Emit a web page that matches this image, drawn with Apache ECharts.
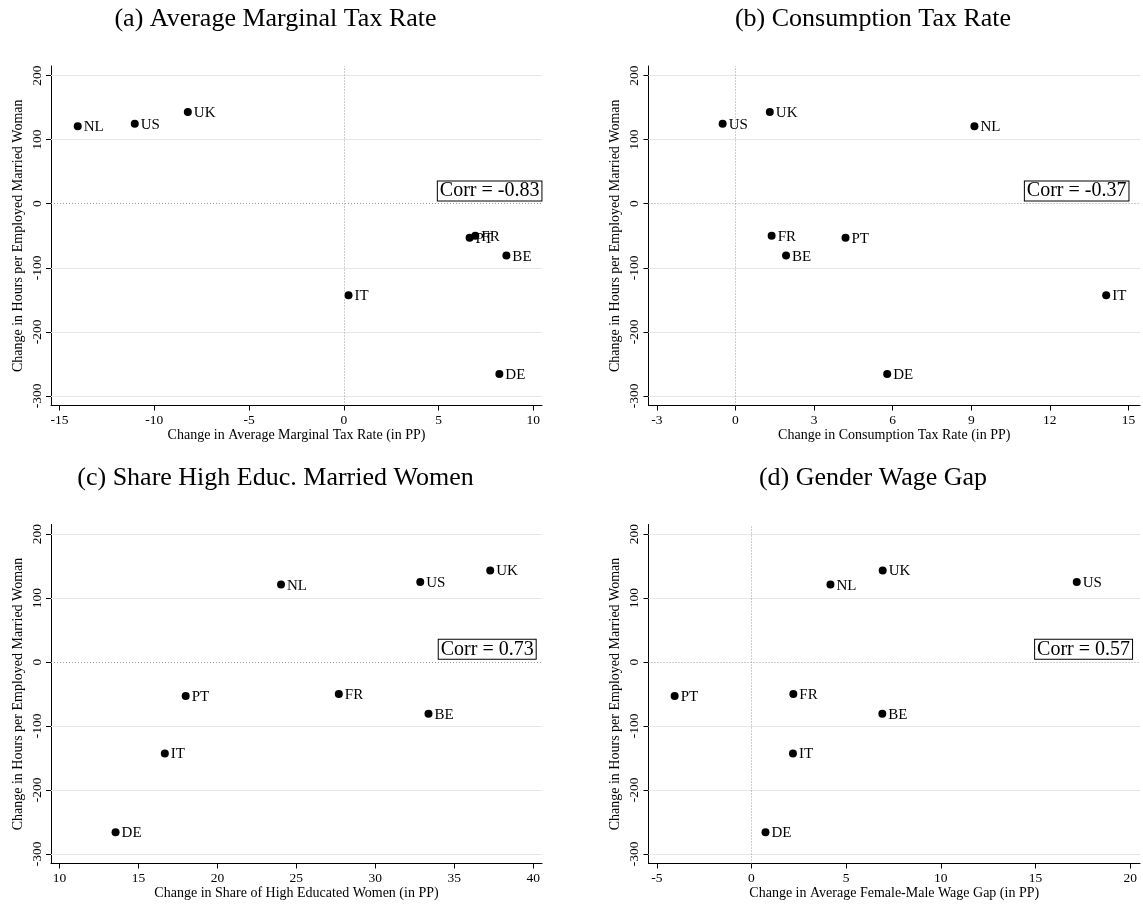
<!DOCTYPE html>
<html>
<head>
<meta charset="utf-8">
<script src="https://cdn.jsdelivr.net/npm/echarts@6/dist/echarts.min.js"></script>
<style>
  html, body { margin: 0; padding: 0; background: #fff; }
  #chart { width: 1143px; height: 905px; }
</style>
</head>
<body>
<div id="chart"></div>
<script>
// Countries and the common outcome: change in annual hours per employed married woman
const countries   = ['NL', 'US', 'UK', 'FR', 'PT', 'BE', 'IT', 'DE'];
const hoursChange = [121, 125, 143, -50, -53, -81, -143, -266];

// Explanatory variables, one per panel (same country order)
const avgMarginalTax  = [-14.04, -11.03, -8.23, 6.94, 6.64, 8.58, 0.25, 8.21];
const consumptionTax  = [9.12, -0.49, 1.31, 1.38, 4.20, 1.93, 14.15, 5.79];
const highEducShare   = [24.03, 32.85, 37.28, 27.69, 17.99, 33.37, 16.67, 13.55];
const wageGap         = [4.17, 17.18, 6.93, 2.21, -4.06, 6.91, 2.19, 0.74];

// Panel text
const panelTitles = [
  '(a) Average Marginal Tax Rate',
  '(b) Consumption Tax Rate',
  '(c) Share High Educ. Married Women',
  '(d) Gender Wage Gap'
];
const xAxisNames = [
  'Change in Average Marginal Tax Rate (in PP)',
  'Change in Consumption Tax Rate (in PP)',
  'Change in Share of High Educated Women (in PP)',
  'Change in Average Female-Male Wage Gap (in PP)'
];
const yAxisName = 'Change in Hours per Employed Married Woman';
const corrValues = ['-0.83', '-0.37', '0.73', '0.57'];

// Axis ticks and ranges
const xTicks = [
  [-15, -10, -5, 0, 5, 10],
  [-3, 0, 3, 6, 9, 12, 15],
  [10, 15, 20, 25, 30, 35, 40],
  [-5, 0, 5, 10, 15, 20]
];
const xRanges = [[-15.45, 10.46], [-3.32, 15.44], [9.46, 40.56], [-5.44, 20.52]];
const yTicks = [-300, -200, -100, 0, 100, 200];
const yRange = [-315, 215];
// dotted reference line at x = 0 where zero lies inside the range
const xZeroLine = [true, true, false, true];

// Anchor (data units) of the right-bottom corner of each correlation box
const corrAnchorX = [10.43, 15.0, 40.16, 20.1];
const corrAnchorY = 5;

const xValues = [avgMarginalTax, consumptionTax, highEducShare, wageGap];

const FONT = '"Liberation Serif", "Times New Roman", serif';
const grids = [
  { left: 51,    top: 66,    width: 491,   height: 339.5 },
  { left: 648.5, top: 66,    width: 491.5, height: 339.5 },
  { left: 51,    top: 524.5, width: 491,   height: 339 },
  { left: 648.5, top: 524.5, width: 491.5, height: 339 }
];

const chart = echarts.init(document.getElementById('chart'), null, { renderer: 'canvas' });

const xAxes = [], yAxes = [], series = [];
for (let i = 0; i < 4; i++) {
  xAxes.push({
    type: 'value', gridIndex: i,
    min: xRanges[i][0], max: xRanges[i][1],
    axisLine: { onZero: false, lineStyle: { color: '#000', width: 1 } },
    axisTick: { customValues: xTicks[i], length: 5, lineStyle: { color: '#000', width: 1 } },
    axisLabel: { customValues: xTicks[i], margin: 8, fontSize: 13.5, fontFamily: FONT, color: '#000' },
    splitLine: { show: false },
    name: xAxisNames[i], nameLocation: 'middle', nameGap: 23,
    nameTextStyle: { fontFamily: FONT, fontSize: 14, color: '#000' }
  });
  yAxes.push({
    type: 'value', gridIndex: i,
    min: yRange[0], max: yRange[1],
    axisLine: { onZero: false, lineStyle: { color: '#000', width: 1 } },
    axisTick: { customValues: yTicks, length: 5, lineStyle: { color: '#000', width: 1 } },
    axisLabel: { customValues: yTicks, rotate: 90, margin: 7, fontSize: 13.5, fontFamily: FONT, color: '#000' },
    splitLine: { show: false },
    name: yAxisName, nameLocation: 'middle', nameGap: 26,
    nameTextStyle: { fontFamily: FONT, fontSize: 14, color: '#000' }
  });

  // light horizontal gridlines plus dotted zero lines
  const lines = yTicks.filter(v => v !== 0).map(v => ({
    yAxis: v, lineStyle: { color: '#e6e6e6', width: 1, type: 'solid' }
  }));
  lines.push({ yAxis: 0, lineStyle: { color: '#9a9a9a', width: 1, type: [1, 2] } });
  if (xZeroLine[i]) {
    lines.push({ xAxis: 0, lineStyle: { color: '#9a9a9a', width: 1, type: [1, 2] } });
  }
  series.push({
    type: 'line', xAxisIndex: i, yAxisIndex: i, data: [], z: 1, silent: true,
    markLine: {
      silent: true, symbol: ['none', 'none'], animation: false,
      label: { show: false }, emphasis: { disabled: true },
      data: lines
    }
  });

  series.push({
    type: 'scatter', xAxisIndex: i, yAxisIndex: i, z: 3,
    symbol: 'circle', symbolSize: 8,
    itemStyle: { color: '#000', opacity: 1 },
    data: countries.map((c, k) => [xValues[i][k], hoursChange[k], c]),
    label: {
      show: true, position: 'right', distance: 2, offset: [0, 1],
      formatter: p => p.data[2],
      fontFamily: FONT, fontSize: 15, color: '#000'
    },
    emphasis: { disabled: true }
  });
}

chart.setOption({
  backgroundColor: '#fff',
  animation: false,
  grid: grids.map(g => Object.assign({ containLabel: false, outerBoundsMode: 'none' }, g)),
  xAxis: xAxes,
  yAxis: yAxes,
  series: series
});

// Panel titles and correlation boxes
const graphics = [];
const titleCenters = [[275.5, 19.5], [873, 19.5], [275.5, 478.5], [873, 478.5]];
panelTitles.forEach((t, i) => {
  graphics.push({
    type: 'text', x: titleCenters[i][0], y: titleCenters[i][1], silent: true,
    style: { text: t, font: '26px ' + FONT, fill: '#000', align: 'center', verticalAlign: 'middle' }
  });
});
corrValues.forEach((v, i) => {
  const p = chart.convertToPixel({ gridIndex: i }, [corrAnchorX[i], corrAnchorY]);
  graphics.push({
    type: 'text', x: p[0], y: p[1], z: 10, silent: true,
    style: {
      text: 'Corr = ' + v, font: '20px ' + FONT, fill: '#000',
      align: 'right', verticalAlign: 'bottom',
      backgroundColor: '#fff', borderColor: '#000', borderWidth: 1,
      padding: [0, 2, 0, 2], lineHeight: 19
    }
  });
});
chart.setOption({ graphic: graphics });
</script>
</body>
</html>
